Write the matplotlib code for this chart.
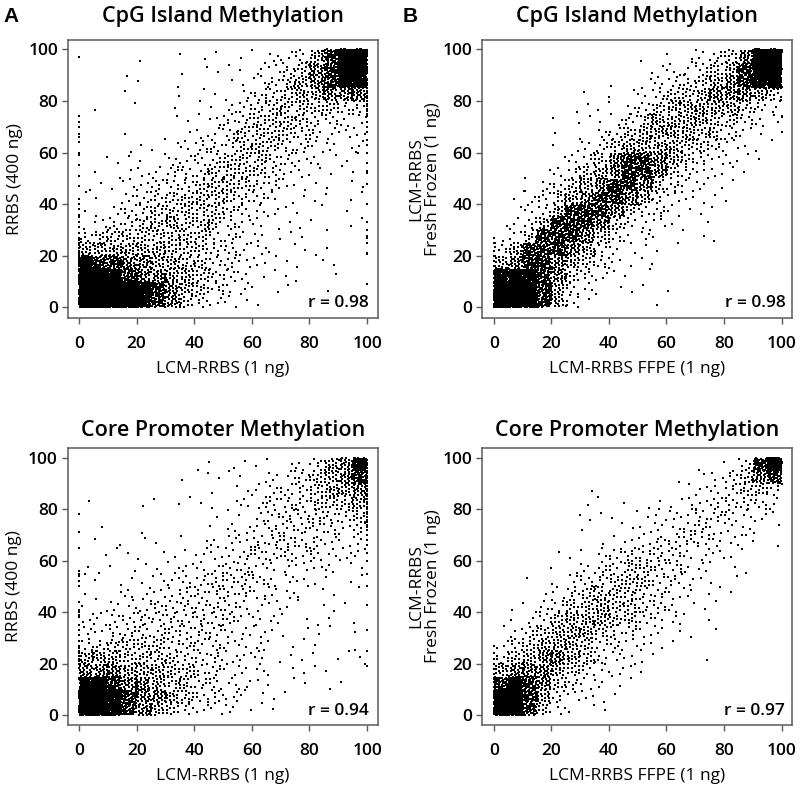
import numpy as np
import matplotlib
matplotlib.use("Agg")
import matplotlib.pyplot as plt

# density of points per 5x5 cell (level 0-9), top row = y 95-100,
# columns x 0-5 ... 95-100
level_count = [0, 1, 3, 6, 11, 17, 26, 42, 80, 180]

cpg_lcm_vs_rrbs = [
    "00001001110112235799",
    "00000001111122346799",
    "00011010001123456788",
    "00010010111233455666",
    "01010010112334444433",
    "00000011123344443322",
    "00010101223444433222",
    "00011112333444332212",
    "01111122334443322111",
    "01112233344443221111",
    "11122333444433211111",
    "11123344444332111111",
    "11233444443322111010",
    "12334454443221111011",
    "34444444433221110101",
    "55555544433221111101",
    "87766554433221111100",
    "99876655433211110100",
    "99998765432211100100",
    "99998764322110000000",
]
cpg_x0 = [97, 74, 72, 70, 67, 66, 64, 60, 59, 55, 51, 47, 42, 40, 38, 36, 35, 33,
          31, 29, 27, 26, 25, 24, 23, 22, 21, 20, 19, 18, 17, 16, 15, 14]
cpg_x100 = [9, 21, 25, 27, 30, 33, 40, 48, 52, 53, 56, 60, 63, 65, 68, 70, 72, 74,
            75, 76, 77, 78, 79, 80, 81, 82, 83, 84, 85, 86, 87, 88]

cpg_ffpe_vs_ff = [
    "00000000001011234699",
    "00000000001122345799",
    "00000000101233456788",
    "00000010112344566654",
    "00000111123455555432",
    "00001111234555544322",
    "00001012345555443211",
    "00001123455554432110",
    "00001234677654322110",
    "00112345677643221100",
    "00123456776432211000",
    "01234567765322111000",
    "01235777643321110000",
    "12357776432211100000",
    "12477764322110110000",
    "35777653211100000000",
    "56776543211100000000",
    "88876432111000000000",
    "99875321111010000000",
    "99975310000100000000",
]
ffpe_cpg_x0 = [27, 25, 22, 20, 18, 16, 14, 13]
ffpe_cpg_x100 = [68, 74]

core_lcm_vs_rrbs = [
    "00000000111111123568",
    "00000001111112234567",
    "00000000011122334556",
    "10001111111223334445",
    "00000000011123333334",
    "01001000012223333323",
    "01101101122233333222",
    "01111111222333323222",
    "11111122223322222211",
    "11111222333332221111",
    "11122223333322211101",
    "11222333333222111110",
    "22233333333222111101",
    "22333333332221111101",
    "33444433332221111001",
    "55544443332221111111",
    "66655544332221111101",
    "88766544332211110110",
    "99876654332211100000",
    "99876543222111000000",
]
core_x0 = [78, 71, 65, 56, 55, 54, 52, 50, 44, 41, 40, 39, 38, 35, 33, 31, 29,
           27, 26, 25, 24, 23, 22, 21, 20]
core_x100 = [19, 25, 33, 43, 50, 55, 60, 63, 66, 68, 70, 72, 73, 74, 75, 76, 77,
             78, 79, 80, 81, 82, 83, 84, 85, 86, 87, 88, 89, 90, 91, 92, 93, 94,
             95, 96, 97, 98, 99]

core_ffpe_vs_ff = [
    "00000000000000101379",
    "00000000000010123467",
    "00000010000001223443",
    "00000011011112233332",
    "00000111111222333221",
    "00000010112223322211",
    "00000001122333322111",
    "00001112333332221100",
    "00001123344332211100",
    "00101233444332111000",
    "00012344443322111000",
    "01123445443321110000",
    "01234555443221100000",
    "12345554332211010000",
    "23455543322110000000",
    "34566543221100100000",
    "56665432211000000000",
    "78764322110000000000",
    "99753221100000000000",
    "99742111000000000000",
]
ffpe_core_x0 = [27, 24, 22, 20, 18, 16, 14, 13]
ffpe_core_x100 = []

titles = ["CpG Island Methylation", "CpG Island Methylation",
          "Core Promoter Methylation", "Core Promoter Methylation"]
xlabels = ["LCM-RRBS (1 ng)", "LCM-RRBS FFPE (1 ng)",
           "LCM-RRBS (1 ng)", "LCM-RRBS FFPE (1 ng)"]
ylabels = ["RRBS (400 ng)", "LCM-RRBS\nFresh Frozen (1 ng)",
           "RRBS (400 ng)", "LCM-RRBS\nFresh Frozen (1 ng)"]
r_values = ["r = 0.98", "r = 0.98", "r = 0.94", "r = 0.97"]
ticks = [0, 20, 40, 60, 80, 100]

# R2 low-discrepancy steps to spread the points of a cell over that cell
G = 1.32471795724475
A1, A2 = 1 / G, 1 / G ** 2


def cloud(rows, x0_vals, x100_vals):
    xs, ys = [], []
    k = 0
    for r, row in enumerate(rows):
        ylo = 95 - 5 * r
        for c, ch in enumerate(row):
            for _ in range(level_count[int(ch)]):
                k += 1
                xs.append(5 * c + 5 * ((0.5 + k * A1) % 1))
                ys.append(ylo + 5 * ((0.5 + k * A2) % 1))
    xs += [0] * len(x0_vals) + [100] * len(x100_vals)
    ys += list(x0_vals) + list(x100_vals)
    return np.array(xs), np.array(ys)


panels = [
    (cpg_lcm_vs_rrbs, cpg_x0, cpg_x100),
    (cpg_ffpe_vs_ff, ffpe_cpg_x0, ffpe_cpg_x100),
    (core_lcm_vs_rrbs, core_x0, core_x100),
    (core_ffpe_vs_ff, ffpe_core_x0, ffpe_core_x100),
]

plt.rcParams['font.family'] = ['Open Sans', 'DejaVu Sans']
plt.rcParams['font.weight'] = 'semibold'
frame_col = '#5a5a5a'

fig = plt.figure(figsize=(8, 7.93), dpi=100)
W, H = 800, 793

# axes boxes in pixels: left, top, right, bottom
boxes = [(67.7, 40, 378.3, 317.5), (481.7, 40, 791.7, 317.5),
         (67.5, 447.7, 378.3, 724.5), (481.7, 447.7, 791.7, 724.5)]
xlims = [(-3.9, 103.9), (-4.2, 103.5), (-4.0, 103.9), (-4.2, 103.5)]
ylims = [(-3.9, 103.6), (-3.9, 103.6), (-3.6, 103.9), (-3.6, 103.9)]
r_x = [100.7, 101.5, 100.5, 101.2]
ypads = [4, 1, 4, 1]
title_y = [21.7, 21.7, 436, 436]

for i, (rows, e0, e100) in enumerate(panels):
    l, t, r, b = boxes[i]
    ax = fig.add_axes([l / W, 1 - b / H, (r - l) / W, (b - t) / H])
    x, y = cloud(rows, e0, e100)
    ax.scatter(x, y, s=2.6, marker='s', c='black', linewidths=0,
               antialiased=False)
    ax.set_xlim(*xlims[i])
    ax.set_ylim(*ylims[i])
    ax.set_xticks(ticks)
    ax.set_yticks(ticks)
    for sp in ax.spines.values():
        sp.set_color(frame_col)
        sp.set_linewidth(1.1)
    ax.tick_params(length=4, width=1, color=frame_col, labelsize=12.5)
    ax.tick_params(axis='x', pad=9)
    ax.tick_params(axis='y', pad=3)
    ax.set_xlabel(xlabels[i], fontsize=12.5, labelpad=7, fontweight='normal')
    ax.set_ylabel(ylabels[i], fontsize=12.5, labelpad=ypads[i],
                  linespacing=1.05, fontweight='normal')
    ax.text(r_x[i], 0, r_values[i], ha='right', va='baseline', fontsize=12.5)
    fig.text((l + r) / 2 / W, 1 - title_y[i] / H, titles[i], ha='center',
             va='baseline', fontsize=15.5, fontweight='semibold')

fig.text(3 / W, 1 - 22 / H, "A", fontsize=15, fontweight='bold',
         family='Liberation Sans', va='baseline')
fig.text(403 / W, 1 - 22 / H, "B", fontsize=15, fontweight='bold',
         family='Liberation Sans', va='baseline')

fig.savefig("out.png", dpi=100)
